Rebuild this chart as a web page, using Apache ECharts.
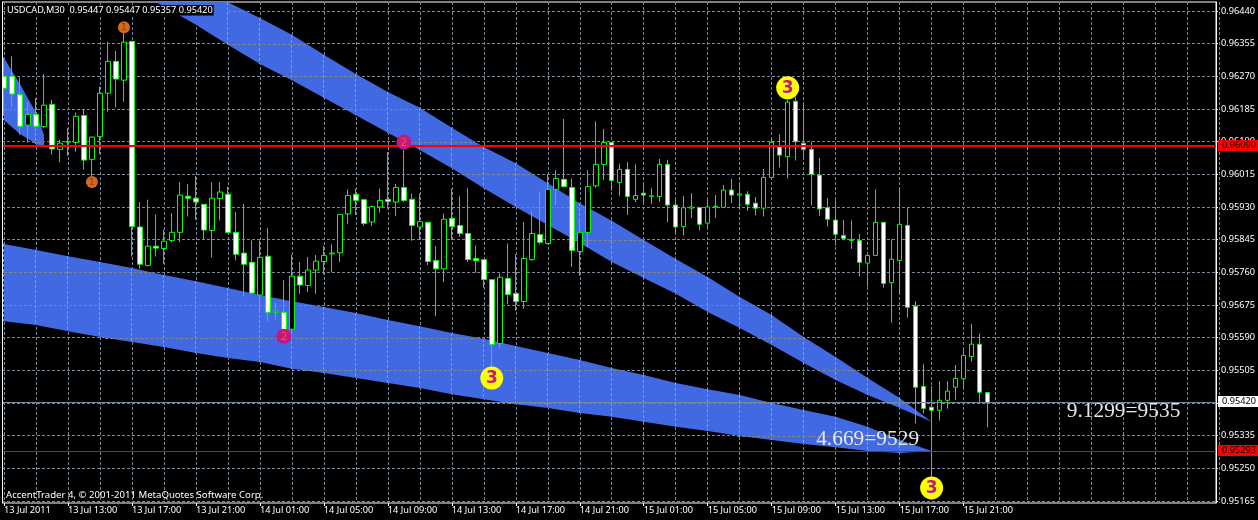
<!DOCTYPE html>
<html><head><meta charset="utf-8">
<style>html,body{margin:0;padding:0;background:#000;overflow:hidden}#c{width:1258px;height:520px}</style>
<script src="https://cdn.jsdelivr.net/npm/echarts@6/dist/echarts.min.js"></script>
</head><body><div id="c"></div>
<script>
// Prices in points (1 point = 0.00001)
const opens=[96270,96270,96223,96143,96171,96139,96197,96080,96100,96098,
96168,96054,96113,96226,96309,96260,96361,95878,95778,95828,
95822,95843,95864,95958,95953,95937,95869,95952,95963,95864,
95810,95786,95701,95802,95656,95656,95612,95750,95726,95766,
95788,95808,95811,95912,95963,95949,95891,95930,95950,95943,
95981,95950,95878,95890,95791,95769,95900,95882,95861,95796,
95793,95741,95575,95744,95705,95684,95793,95858,95835,95976,
96002,95981,95814,95864,95985,96041,96098,95994,96028,95950,
95966,95957,95957,96041,95935,95879,95927,95929,95888,95930,
95929,95974,95961,95963,95940,95927,96007,96088,96061,96205,
96096,96080,96013,95928,95896,95856,95843,95843,95784,95804,
95890,95733,95791,95882,95672,95463,95409,95401,95427,95461,
95483,95541,95573,95447];
const closes=[96239,96224,96140,96171,96140,96195,96081,96096,96099,96166,
96052,96112,96226,96309,96263,96359,95879,95781,95828,95823,
95841,95864,95961,95953,95943,95870,95953,95969,95864,95807,
95781,95706,95799,95656,95659,95610,95750,95727,95766,95789,
95804,95810,95911,95960,95947,95887,95931,95947,95944,95981,
95947,95882,95892,95788,95769,95898,95879,95861,95793,95790,
95741,95572,95747,95702,95684,95796,95861,95838,95976,96004,
95983,95817,95864,95983,96041,96098,95999,96028,95957,95960,
95961,95959,96041,95935,95878,95928,95930,95885,95930,95932,
95974,95961,95964,95937,95927,96007,96098,96065,96203,96100,
96080,96015,95925,95898,95859,95848,95846,95786,95804,95890,
95731,95794,95885,95669,95461,95406,95401,95427,95451,95484,
95544,95573,95448,95420];
const highs=[96317,96322,96268,96204,96213,96276,96209,96105,96135,96176,
96185,96113,96243,96360,96336,96400,96362,95943,95949,95910,
95871,95914,95995,95990,96011,95938,95994,95995,95983,95917,
95938,95843,95843,95875,95680,95740,95806,95787,95800,95805,
95829,95833,95911,95976,95978,95952,95934,95978,96073,95990,
96078,95965,95965,95890,95828,95913,95978,95958,95979,95830,
95793,95741,95757,95835,95807,95891,95919,95970,96015,96026,
96159,96004,95900,96026,96153,96133,96098,96043,96047,96041,
95995,95980,96055,96053,95950,95959,95966,95930,95949,95961,
95987,96003,95994,95971,95956,96029,96106,96119,96209,96217,
96202,96100,96058,95954,95948,95896,95895,95860,95808,95976,
95892,95846,95981,95929,95685,95522,95464,95477,95477,95519,
95558,95626,95601,95447];
const lows=[96170,96190,96118,96098,96131,96135,96066,96046,96063,96074,
96027,96009,96068,96178,96189,96204,95801,95770,95775,95801,
95782,95838,95838,95905,95897,95845,95799,95895,95862,95791,
95697,95704,95661,95632,95636,95602,95597,95704,95709,95704,
95755,95760,95787,95885,95909,95881,95880,95915,95925,95906,
95943,95842,95846,95779,95646,95734,95844,95852,95787,95759,
95720,95514,95564,95677,95660,95665,95790,95833,95833,95935,
95981,95774,95751,95826,95980,96000,95972,95958,95909,95943,
95940,95938,95944,95890,95864,95856,95901,95869,95877,95902,
95928,95940,95925,95920,95908,95905,96003,96033,96004,96051,
96054,95934,95907,95879,95830,95843,95821,95749,95723,95803,
95720,95629,95704,95642,95367,95393,95225,95374,95405,95428,
95457,95528,95419,95357];

// Ribbon edges: [bar index, price in points]
const lowerTop=[[0,95834],[4,95818],[8,95802],[12,95787],[16,95771],[20,95753],[24,95737],[28,95719],[32,95701],[36,95685],[40,95670],[44,95654],[48,95636],[52,95620],[56,95602],[60,95587],[64,95568],[68,95550],[72,95532],[76,95511],[80,95493],[84,95472],[88,95456],[92,95441],[96,95420],[100,95402],[104,95384],[108,95358],[112,95324],[116,95295]];
const lowerBottom=[[0,95633],[4,95623],[8,95607],[12,95592],[16,95579],[20,95566],[24,95550],[28,95537],[32,95527],[36,95509],[40,95498],[44,95485],[48,95472],[52,95459],[56,95443],[60,95430],[64,95417],[68,95407],[72,95394],[76,95384],[80,95371],[84,95358],[88,95347],[92,95334],[96,95324],[100,95313],[104,95305],[108,95295],[112,95290],[116,95295]];
const upperTop=[[28,96463],[32,96422],[36,96378],[40,96326],[44,96276],[48,96229],[52,96188],[56,96136],[60,96086],[64,96044],[68,95992],[72,95940],[76,95894],[80,95844],[84,95795],[88,95748],[92,95696],[96,95649],[100,95592],[104,95540],[108,95485],[112,95433],[116,95371]];
const upperBottom=[[19,96463],[20,96452],[24,96404],[28,96352],[32,96302],[36,96260],[40,96214],[44,96169],[48,96123],[52,96078],[56,96031],[60,95979],[64,95930],[68,95883],[72,95836],[76,95787],[80,95745],[84,95704],[88,95657],[92,95615],[96,95571],[100,95524],[104,95480],[108,95441],[112,95407],[116,95371]];
const smallTop=[[0,96318],[2,96250],[4,96175],[5,96118]];
const smallBottom=[[0,96156],[2,96120],[4,96094],[5,96086]];

const yTicks=[96440,96355,96270,96185,96100,96015,95930,95845,95760,95675,95590,95505,95420,95335,95250,95165];
const timeLabels=['13 Jul 2011','13 Jul 13:00','13 Jul 17:00','13 Jul 21:00','14 Jul 01:00','14 Jul 05:00','14 Jul 09:00','14 Jul 13:00','14 Jul 17:00','14 Jul 21:00','15 Jul 01:00','15 Jul 05:00','15 Jul 09:00','15 Jul 13:00','15 Jul 17:00','15 Jul 21:00'];
const barSlots=153;
const categories=Array.from({length:barSlots},(_,i)=>String(i));

const orangeMarks=[[15,96398],[11,95995]];
const pinkMarks=[[35,95594],[50,96099]];
const yellowMarks=[[98,96240],[61,95485],[116,95199]];
const levelPrices=[96090,95293,95420];
const levelLine=['#ff0000','#ff0000','#778899'];
const levelWidth=[2,1,1];
const levelTag=['#ff0000','#ff0000','#ffffff'];
const notes=[[140,95399,'9.1299=9535'],[108,95326,'4.669=9529']];

const px=v=>v/1e5;
const FONT='"Noto Sans","Liberation Sans",sans-serif', FS=9.2;
const yMin=0.951598,yMax=0.964634;
const ribbons=[[smallTop,smallBottom],[upperTop,upperBottom],[lowerTop,lowerBottom]];

function interp(edge,k){
  if(k<edge[0][0]||k>edge[edge.length-1][0])return null;
  for(let i=1;i<edge.length;i++){
    if(k<=edge[i][0]){const a=edge[i-1],b=edge[i];return a[1]+(b[1]-a[1])*(k-a[0])/(b[0]-a[0]);}
  }
  return edge[edge.length-1][1];
}
function renderRibbons(params,api){
  const children=[];
  const x0=api.coord([0,px(96000)])[0],x100=api.coord([100,px(96000)])[0];
  const xOf=k=>x0+(x100-x0)*k/100;
  const yOf=p=>api.coord([0,px(p)])[1];
  const cs=params.coordSys;
  const cl=y=>Math.max(cs.y,Math.min(cs.y+cs.height,y));
  ribbons.forEach(([top,bot])=>{
    const pts=top.map(e=>[xOf(e[0]),cl(yOf(e[1]))]).concat(bot.slice().reverse().map(e=>[xOf(e[0]),cl(yOf(e[1]))]));
    children.push({type:'polygon',shape:{points:pts},style:{fill:'#4169e1'}});
    // grid lines seen through the ribbon
    for(let k=0;k<=116;k+=4){
      const a=interp(top,k),b=interp(bot,k);
      if(a==null||b==null||a-b<4)continue;
      const x=Math.floor(xOf(k))+0.5;
      children.push({type:'line',shape:{x1:x,y1:cl(yOf(a)),x2:x,y2:cl(yOf(b))},style:{stroke:'#4cc8a0',lineWidth:1,lineDash:[3,2]}});
    }
    yTicks.forEach(p=>{
      let s=null,e=null;
      const startK=Math.max(top[0][0],bot[0][0]),endK=Math.min(top[top.length-1][0],bot[bot.length-1][0]);
      for(let k=startK;k<=endK;k+=0.05){
        const a=interp(top,k),b=interp(bot,k);
        if(a!=null&&b!=null&&b<=p&&p<=a){if(s==null)s=k;e=k;}
      }
      if(s!=null&&e-s>0.3){
        const y=Math.round(yOf(p))+0.5;
        children.push({type:'line',shape:{x1:xOf(s),y1:y,x2:xOf(e),y2:y},style:{stroke:'#83877e',lineWidth:1,lineDash:[3,2]}});
      }
    });
  });
  return {type:'group',children};
}
function renderNotes(params,api){
  const n=notes[params.dataIndex];
  const c=api.coord([n[0],px(n[1])]);
  return {type:'text',x:c[0],y:c[1],style:{text:n[2],fill:'#e4e6ee',font:'21.4px "Liberation Serif",serif',textAlign:'center',textVerticalAlign:'middle'}};
}
function renderLevel(params,api){
  const i=params.dataIndex, cs=params.coordSys;
  const raw=Math.floor(api.coord([0,px(levelPrices[i])])[1]);
  const y=levelWidth[i]%2?raw+0.5:raw+1;
  const r=cs.x+cs.width, tagTop=Math.floor(y)-6;
  return {type:'group',children:[
    {type:'line',shape:{x1:cs.x,y1:y,x2:r,y2:y},style:{stroke:levelLine[i],lineWidth:levelWidth[i]}},
    {type:'rect',shape:{x:r+2,y:tagTop,width:40,height:11},style:{fill:levelTag[i]}},
    {type:'text',x:r+6,y:tagTop+5.5,style:{text:px(levelPrices[i]).toFixed(5),fill:'#000',font:FS+'px '+FONT,textAlign:'left',textVerticalAlign:'middle'}}
  ]};
}
function marks(data,size,color,digit,digitColor,fs,bold){
  return {type:'scatter',xAxisIndex:1,yAxisIndex:1,z:6,silent:true,symbol:'circle',symbolSize:size,
    data:data.map(d=>[d[0],px(d[1])]),itemStyle:{color,opacity:1},
    label:{show:true,position:'inside',offset:[0,1],formatter:digit,color:digitColor,fontSize:fs,fontFamily:'"DejaVu Sans",sans-serif',fontWeight:bold?'bold':'normal'}};
}

const chart=echarts.init(document.getElementById('c'),null,{renderer:'canvas'});
chart.setOption({
  animation:false,backgroundColor:'#000',
  title:[
    {text:'USDCAD,M30  0.95447 0.95447 0.95357 0.95420',left:5,top:5,padding:[0,1,0,2],backgroundColor:'#000',z:20,
     textStyle:{color:'#fff',fontSize:FS,fontFamily:FONT,fontWeight:'normal',lineHeight:10.5}},
    {text:'AccentTrader 4, \u00a9 2001-2011 MetaQuotes Software Corp.',left:5,top:490,padding:[0,0,0,1],z:20,
     textStyle:{color:'#fff',fontSize:9.6,fontFamily:FONT,fontWeight:'normal',lineHeight:10.5}}
  ],
  grid:[
    {left:2,top:2,width:1218,height:501,show:true,borderColor:'#fff',borderWidth:1,backgroundColor:'#000',containLabel:false},
    {left:-0.5,top:2,width:1224,height:501,show:false}
  ],
  xAxis:[
    {type:'category',gridIndex:0,data:categories,show:false},
    {type:'category',gridIndex:1,data:categories,boundaryGap:true,
     axisLine:{show:false},
     axisTick:{show:true,alignWithLabel:true,length:3,interval:i=>i%8===0&&i<=120,lineStyle:{color:'#fff',width:1}},
     axisLabel:{show:true,interval:i=>i%8===0&&i<=120,align:'left',margin:3,color:'#fff',fontSize:FS,fontFamily:FONT,
       formatter:(v,i)=>timeLabels[i/8]||''},
     splitLine:{show:true,alignWithLabel:true,interval:i=>i%4===0,lineStyle:{color:'#778899',width:1,type:[3,2]}}}
  ],
  yAxis:[
    {type:'value',gridIndex:0,position:'right',min:yMin,max:yMax,scale:true,
     axisLine:{show:true,lineStyle:{color:'#fff',width:1}},
     axisTick:{show:true,length:2,customValues:yTicks.map(px),lineStyle:{color:'#fff'}},
     axisLabel:{show:true,customValues:yTicks.map(px),margin:5,color:'#fff',fontSize:FS,fontFamily:FONT,formatter:v=>v.toFixed(5),hideOverlap:false},
     splitLine:{show:true,lineStyle:{color:'#778899',width:1,type:[3,2]}}},
    {type:'value',gridIndex:1,min:yMin,max:yMax,scale:true,show:false,splitLine:{show:false}}
  ],
  graphic:[
    {type:'rect',left:0,top:0,z:15,shape:{width:2,height:520},style:{fill:'#000'}},
    {type:'rect',left:2,top:2,z:15,shape:{width:1,height:501},style:{fill:'#fff'}}
  ],
  series:[
    {type:'custom',xAxisIndex:1,yAxisIndex:1,z:2,silent:true,clip:false,data:[[0,px(96000)]],renderItem:renderRibbons},
    {type:'candlestick',xAxisIndex:1,yAxisIndex:1,z:3,silent:true,barWidth:5,clip:false,
     data:opens.map((o,i)=>[px(o),px(closes[i]),px(lows[i]),px(highs[i])]),
     itemStyle:{color:'#000',color0:'#fff',borderColor:'#00ff00',borderColor0:'#00ff00',borderWidth:1}},
    {type:'custom',xAxisIndex:0,yAxisIndex:0,z:5,silent:true,clip:false,data:levelPrices.map(p=>[0,px(p)]),renderItem:renderLevel},
    marks(orangeMarks,12,'#d2691e','1','#8a3a10',9,false),
    marks(pinkMarks,15,'#c71585','2','#d2691e',11,false),
    marks(yellowMarks,23,'#ffff00','3','#c71585',17,true),
    {type:'custom',xAxisIndex:1,yAxisIndex:1,z:7,silent:true,clip:false,data:notes.map(n=>[n[0],px(n[1])]),renderItem:renderNotes}
  ]
});
</script></body></html>
